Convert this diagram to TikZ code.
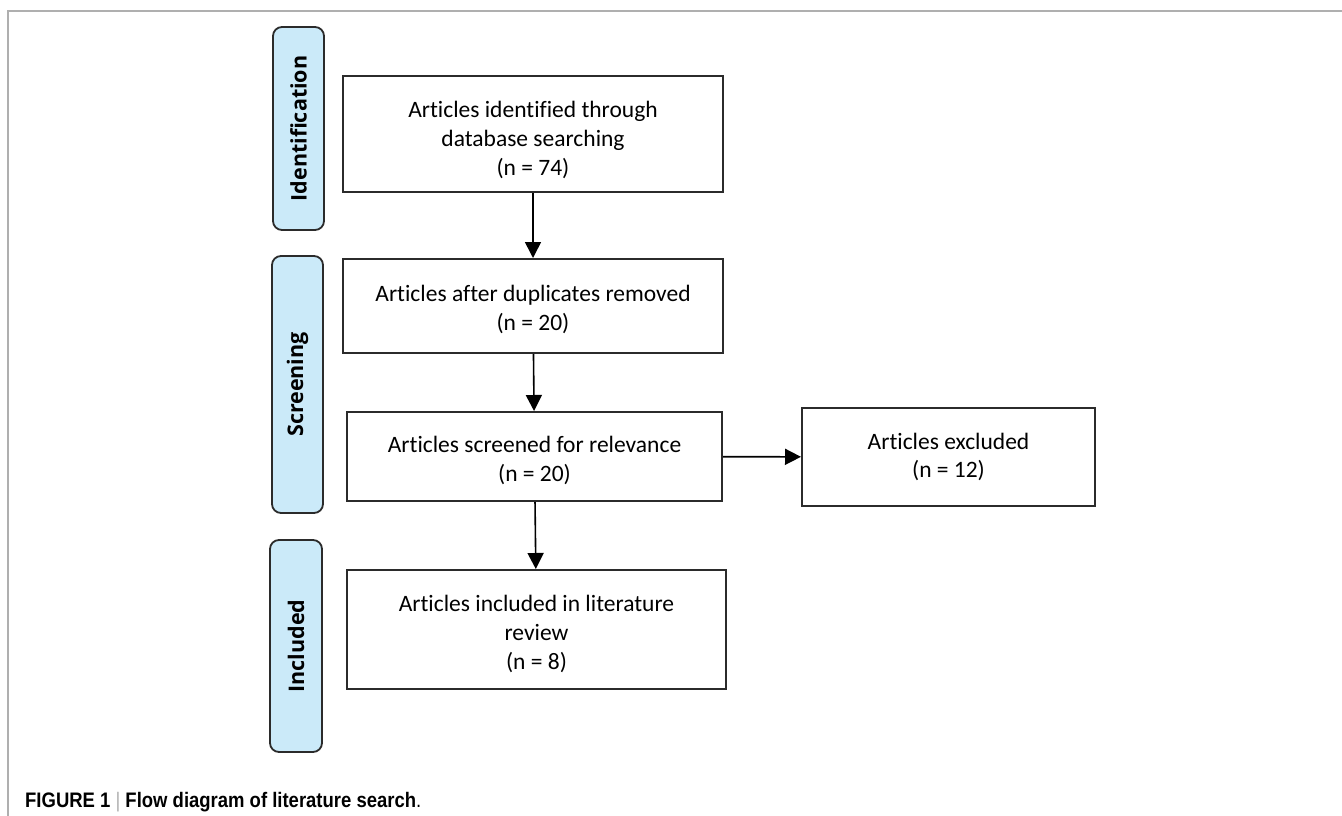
\documentclass[tikz,border=0pt]{standalone}
\usepackage{fontspec}
\setmainfont{Carlito}[Ligatures=NoCommon]
\newfontfamily\pillfont{Open Sans}
\newfontfamily\capfont[FakeStretch=0.88]{Liberation Sans}
\usetikzlibrary{arrows.meta}
\definecolor{pillblue}{HTML}{CBEAF9}
\definecolor{boxline}{HTML}{2B2B2B}
\definecolor{framegray}{HTML}{AFAFAF}
\newcommand{\toppad}[1]{\rule{0pt}{#1}}
\tikzset{
  flowbox/.style={draw=boxline, line width=2pt, fill=white, align=center, inner sep=0pt,
    font=\fontsize{23.5}{28.7}\selectfont},
  pill/.style={draw=boxline, line width=1.8pt, fill=pillblue, rounded corners=9pt, rotate=90,
    inner sep=0pt, font=\pillfont\bfseries\fontsize{21.5}{24}\selectfont},
  flowarrow/.style={draw=black, line width=1.6pt, -{Triangle[length=16pt,width=16pt]}}
}
\begin{document}
\begin{tikzpicture}[x=1pt,y=-1pt]
\useasboundingbox (0,0) rectangle (1342,816);
% frame
\coordinate (fTR) at (1342,11);
\coordinate (fTL) at (8,11);
\coordinate (fBL) at (8,816);
\draw[framegray, line width=2pt] (fTR) -- (fTL) -- (fBL);
% stage pills
\node[pill, minimum width=203pt, minimum height=51pt] (p1) at (298.5,128.5) {Identification};
\node[pill, minimum width=257pt, minimum height=51pt] (p2) at (297.5,384.5) {Screening};
\node[pill, minimum width=212pt, minimum height=52pt] (p3) at (296,646) {Included};
% boxes
\node[flowbox, minimum width=380pt, minimum height=116pt] (b1) at (533,134)
  {\toppad{28pt}Articles identified through\\database searching\\(n = 74)};
\node[flowbox, minimum width=380pt, minimum height=94pt] (b2) at (533,306)
  {\toppad{23pt}Articles after duplicates removed\\(n = 20)};
\node[flowbox, minimum width=375pt, minimum height=89pt] (b3) at (534.5,456.5)
  {\toppad{24pt}Articles screened for relevance\\(n = 20)};
\node[flowbox, minimum width=293pt, minimum height=98pt] (ex) at (948.5,457)
  {Articles excluded\\(n = 12)};
\node[flowbox, minimum width=379pt, minimum height=119pt] (b4) at (536.5,629.5)
  {\toppad{25pt}Articles included in literature\\review\\(n = 8)};
% connectors
\draw[flowarrow] (b1) -- (b2);
\draw[flowarrow] (b2) -- (b3);
\draw[flowarrow] (b3) -- (ex);
\draw[flowarrow] (b3) -- (b4);
% caption
\node[anchor=base west, inner sep=0pt, font=\capfont\fontsize{21}{24}\selectfont] (cap) at (25,807)
  {\textbf{FIGURE 1} \textcolor{framegray}{|} \textbf{Flow diagram of literature search}.};
\end{tikzpicture}
\end{document}
